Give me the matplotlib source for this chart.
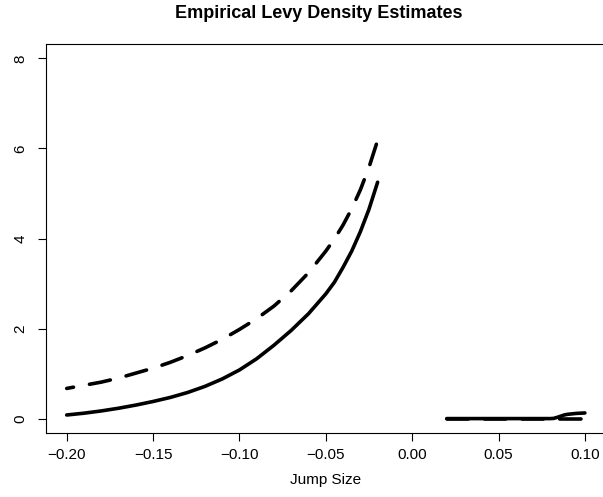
import numpy as np
import matplotlib
matplotlib.use("Agg")
import matplotlib.pyplot as plt

# negative jumps
neg_x = [-0.20, -0.19, -0.18, -0.17, -0.16, -0.15, -0.14, -0.13, -0.12, -0.11,
         -0.10, -0.09, -0.08, -0.07, -0.06, -0.05, -0.045, -0.04, -0.035,
         -0.03, -0.025, -0.02]
neg_solid = [0.08, 0.12, 0.17, 0.23, 0.30, 0.38, 0.47, 0.58, 0.715, 0.88,
             1.08, 1.33, 1.63, 1.96, 2.33, 2.77, 3.03, 3.36, 3.72,
             4.15, 4.65, 5.25]
neg_dashed = [0.67, 0.74, 0.81, 0.90, 1.01, 1.12, 1.25, 1.40, 1.57, 1.76,
              1.98, 2.22, 2.50, 2.84, 3.24, 3.72, 3.99, 4.30, 4.66,
              5.08, 5.58, 6.18]

# positive jumps
pos_x = [0.02, 0.03, 0.04, 0.05, 0.06, 0.07, 0.08, 0.082, 0.085, 0.088,
         0.09, 0.095, 0.10]
pos_solid = [0.0, 0.0, 0.0, 0.0, 0.0, 0.0, 0.0, 0.005, 0.04, 0.08,
             0.095, 0.115, 0.125]
pos_dashed = [0.0] * len(pos_x)

x_ticks = [-0.20, -0.15, -0.10, -0.05, 0.00, 0.05, 0.10]
y_ticks = [0, 2, 4, 6, 8]

plt.rcParams["font.family"] = ["Liberation Sans", "DejaVu Sans"]

W, H = 603, 497
fig = plt.figure(figsize=(W / 100, H / 100), dpi=100)
ax = fig.add_axes([46 / W, 1 - 433 / H, 559.6 / W, (433 - 44) / H])

lw = 2.6
ax.plot(neg_x, neg_solid, color="black", lw=lw, solid_capstyle="round")
ax.plot(neg_x, neg_dashed, color="black", lw=lw,
        linestyle=(4, (5.9, 4.5)), dash_capstyle="round")
ax.plot(pos_x, pos_dashed, color="black", lw=lw,
        linestyle=(0, (5.9, 4.5)), dash_capstyle="round")
ax.plot(pos_x, pos_solid, color="black", lw=lw, solid_capstyle="round")

ax.set_xlim(-0.212, 0.112)
ax.set_ylim(-0.32, 8.32)
ax.set_xticks(x_ticks)
ax.set_xticklabels([f"{v:.2f}".replace("-", "\u2212") for v in x_ticks])
ax.set_yticks(y_ticks)
ax.set_yticklabels([str(v) for v in y_ticks], rotation=90, va="center")

ax.tick_params(axis="both", direction="out", length=5.5, width=0.8,
               labelsize=11, color="black")
ax.tick_params(axis="x", pad=5)
ax.tick_params(axis="y", pad=8)
for s in ax.spines.values():
    s.set_linewidth(0.8)

ax.set_title("Empirical Levy Density Estimates", fontsize=13,
             fontweight="bold", pad=19, x=0.488)
ax.set_xlabel("Jump Size", fontsize=11, labelpad=8)

fig.savefig("out.png", dpi=100)
